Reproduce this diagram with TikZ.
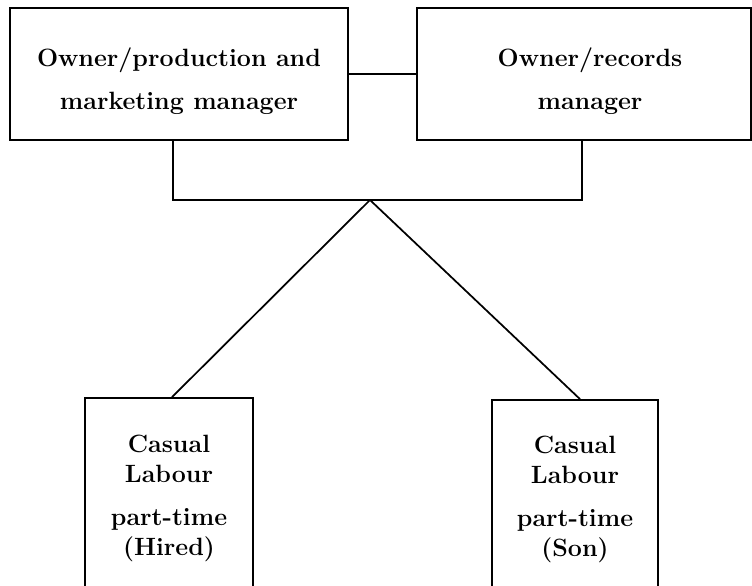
\documentclass[tikz,border=0pt]{standalone}
\usepackage{tikz}

\begin{document}
\begin{tikzpicture}[x=0.75pt,y=0.75pt,yscale=-1,xscale=1,
        boxed/.style={draw,line width=1.3pt,rectangle,inner sep=0pt},
        words/.style={inner sep=0pt,align=center,
          font=\fontsize{18.75}{22.5}\selectfont\bfseries},
        link/.style={line width=1.3pt}]
        \clip (0,0) rectangle (752,585);

        \draw (179,74) node [boxed,minimum width=253.5pt,minimum height=99pt] (pm) {};
        \draw (584,74) node [boxed,minimum width=250.5pt,minimum height=99pt] (rec) {};
        \draw (169,498) node [boxed,minimum width=126pt,minimum height=150pt] (hired) {};
        \draw (575,499) node [boxed,minimum width=124.5pt,minimum height=148.5pt] (son) {};

        \draw ([yshift=5.25pt]pm.center) node [words] (pmtext) {Owner/production and\\[9.75pt]marketing manager};
        \draw ([xshift=4.5pt,yshift=5.25pt]rec.center) node [words] (rectext) {Owner/records\\[9.75pt]manager};
        \draw (hired.center) node [words] (hiredtext) {Casual\\Labour\\[9.75pt]part-time\\(Hired)};
        \draw (son.center) node [words] (sontext) {Casual\\Labour\\[9.75pt]part-time\\(Son)};

        \coordinate (jl) at (173,200);
        \coordinate (jr) at (582,200);
        \coordinate (apex) at (370,200);

        \draw [link] (pm.east) -- (rec.west);
        \draw [link] (pm.south -| jl) -- (jl) -- (jr) -- (rec.south -| jr);
        \draw [link] (apex) -- ([xshift=2.25pt]hired.north);
        \draw [link] (apex) -- ([xshift=3.75pt]son.north);
    \end{tikzpicture}
\end{document}
